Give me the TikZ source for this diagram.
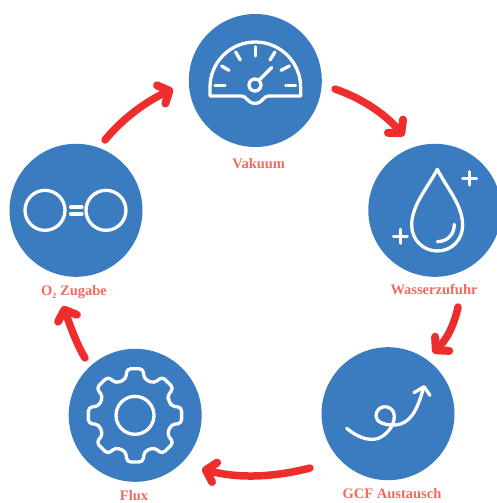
\documentclass[tikz,border=0pt]{standalone}
\usepackage{fontspec}
\setmainfont{Liberation Serif}
\usetikzlibrary{arrows.meta}
\definecolor{disc}{HTML}{3B7BBF}
\definecolor{lab}{HTML}{F4695C}
\definecolor{arrowred}{HTML}{EE2D2D}
\tikzset{
  disc/.style={circle,fill=disc,draw=none,minimum size=133pt,inner sep=0pt},
  lab/.style={text=lab,font=\bfseries\fontsize{14.5}{16}\selectfont,inner sep=0pt},
  icon/.style={draw=white,line width=3.3pt,line cap=round,line join=round},
  flow/.style={draw=arrowred,line width=7.5pt,line cap=round,-{Straight Barb[round,length=9pt,width=20pt,line width=8pt]}},
  zgrid/.style={x=0.3333pt,y=-0.3333pt}
}
\begin{document}
\begin{tikzpicture}[x=1pt,y=-1pt]
\useasboundingbox (0,0) rectangle (496,503);
\node[disc] (vak) at (255.3,80.5) {};
\node[disc] (was) at (434.8,210.3) {};
\node[disc] (gcf) at (388,413.7) {};
\node[disc] (flx) at (135.2,415.3) {};
\node[disc] (oxy) at (76,210.3) {};
\node[lab] (lvak) at (258.7,163.5) {Vakuum};
\node[lab] (lwas) at (434,290) {Wasserzufuhr};
\node[lab] (lgcf) at (392,494) {GCF Austausch};
\node[lab] (lflx) at (134,495.5) {Flux};
\node[lab] (loxy) at (74,292.5) {O\raisebox{-3pt}{\fontsize{8}{8}\selectfont 2} Zugabe};
% connectors
\coordinate (a1s) at (105,140); \coordinate (a1e) at (173,89);
\coordinate (a2s) at (335,89); \coordinate (a2e) at (404,136);
\coordinate (a3s) at (458,307); \coordinate (a3e) at (433,353);
\coordinate (a4s) at (310,468); \coordinate (a4e) at (202,469);
\coordinate (a5s) at (85,358); \coordinate (a5e) at (63,306);
\draw[flow] (a1s) .. controls (123,118) and (147,101) .. (a1e);
\draw[flow] (a2s) .. controls (361,98) and (384,113) .. (a2e);
\draw[flow] (a3s) .. controls (455,322) and (448,338) .. (a3e);
\draw[flow] (a4s) .. controls (275,477) and (240,479) .. (a4e);
\draw[flow] (a5s) .. controls (76,343) and (70,325) .. (a5e);
% gauge
\begin{scope}[shift={(180,0)},zgrid]
\draw[icon] (90,288) -- (90,262) arc[start angle=180,end angle=360,radius=136] -- (362,288) -- (265,288) .. controls (250,288) and (248,310) .. (225,310) .. controls (202,310) and (200,288) .. (185,288) -- cycle;
\draw[icon,fill=disc] (225,255) circle (18);
\draw[icon] (238,240) -- (275,203);
\draw[icon] (105,256) -- (135,256);
\draw[icon] (317,256) -- (347,256);
\draw[icon] (125,198) -- (147,211);
\draw[icon] (303,211) -- (328,198);
\draw[icon] (167,156) -- (181,180);
\draw[icon] (270,180) -- (285,156);
\draw[icon] (226,140) -- (226,168);
\end{scope}
% drop
\begin{scope}[shift={(360,140)},zgrid]
\draw[icon] (232,88) .. controls (205,140) and (155,195) .. (155,255) .. controls (155,300) and (190,333) .. (232,333) .. controls (275,333) and (308,300) .. (308,255) .. controls (308,195) and (258,140) .. cycle;
\draw[icon] (283,253) .. controls (283,285) and (260,305) .. (232,305);
\draw[icon] (308,116) -- (350,116);
\draw[icon] (328,95) -- (328,135);
\draw[icon] (100,290) -- (142,290);
\draw[icon] (121,268) -- (121,310);
\end{scope}
% exchange curve
\begin{scope}[shift={(315,340)},zgrid]
\draw[icon] (95,265) .. controls (125,290) and (160,305) .. (190,295) .. controls (215,285) and (238,258) .. (238,228) .. controls (238,212) and (225,200) .. (210,200) .. controls (195,200) and (183,212) .. (183,228) .. controls (183,245) and (205,256) .. (240,255) .. controls (280,253) and (305,220) .. (325,145);
\draw[icon] (297,158) -- (327,140) -- (345,166);
\end{scope}
% gear
\begin{scope}[shift={(135,415.33)},zgrid]
\draw[icon,rounded corners=4pt] (-22.5:112)
  \foreach \t in {0,45,...,315} {
    -- (\t-14:112) -- (\t-10:142) -- (\t+10:142) -- (\t+14:112)
  } -- cycle;
\draw[icon] (0,0) circle (57);
\end{scope}
% oxygen
\begin{scope}[shift={(0,135)},zgrid]
\draw[icon] (135,226) circle (60);
\draw[icon] (318,226) circle (60);
\draw[icon] (212,216) -- (246,216);
\draw[icon] (212,237) -- (246,237);
\end{scope}
\end{tikzpicture}
\end{document}
